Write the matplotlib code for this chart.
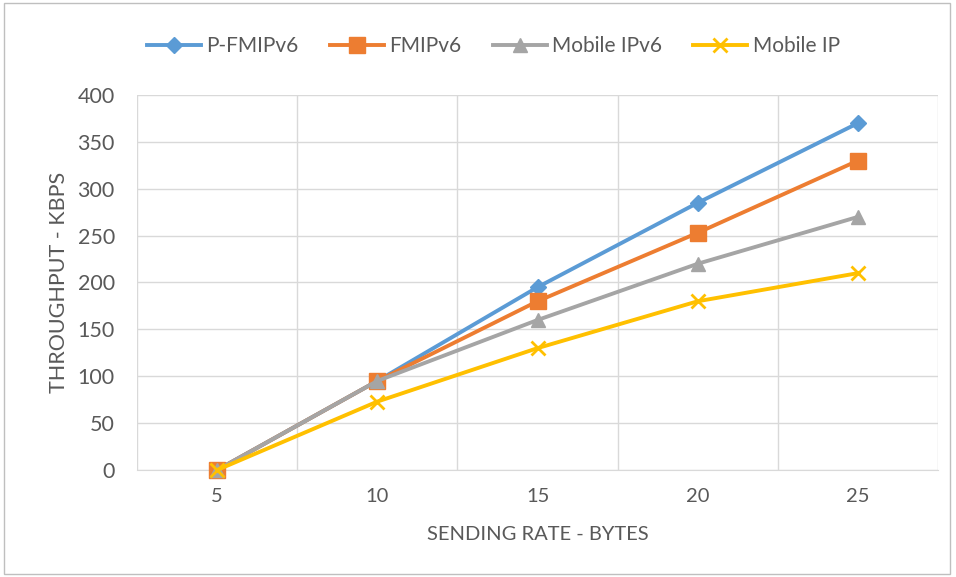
import matplotlib.pyplot as plt
from matplotlib.patches import Rectangle

plt.rcParams['font.family'] = ['Lato', 'DejaVu Sans']

# data
rates = ['5', '10', '15', '20', '25']
p_fmipv6 = [0, 95, 195, 285, 370]
fmipv6 = [0, 95, 180, 253, 330]
mobile_ipv6 = [0, 95, 160, 220, 270]
mobile_ip = [0, 73, 130, 180, 210]

series = [
    ('P-FMIPv6', p_fmipv6, '#5B9BD5', 'D', 8),
    ('FMIPv6', fmipv6, '#ED7D31', 's', 11),
    ('Mobile IPv6', mobile_ipv6, '#A5A5A5', '^', 10),
    ('Mobile IP', mobile_ip, '#FFC000', 'x', 10),
]

fig = plt.figure(figsize=(9.56, 5.77), dpi=100)
ax = fig.add_axes([0.1433, 0.1854, 0.838, 0.650])

xs = list(range(len(rates)))
for name, vals, col, mk, ms in series:
    ax.plot(xs, vals, color=col, lw=2.8, marker=mk, markersize=ms,
            markeredgewidth=2 if mk == 'x' else 1, markeredgecolor=col,
            label=name, zorder=3, clip_on=False)

ax.set_xlim(-0.5, len(rates) - 0.5)
ax.set_ylim(0, 400)
ax.set_yticks(range(0, 401, 50))
ax.set_xticks(xs)
ax.set_xticklabels(rates)
ax.set_xticks([i - 0.5 for i in range(len(rates) + 1)], minor=True)

ax.grid(axis='y', color='#D9D9D9', lw=1)
ax.grid(axis='x', which='minor', color='#D9D9D9', lw=1)
ax.set_axisbelow(True)
for s in ['top', 'left', 'right']:
    ax.spines[s].set_visible(False)
ax.spines['bottom'].set_color('#D9D9D9')
ax.tick_params(which='both', length=0)
ax.tick_params(axis='y', labelsize=15.5, labelcolor='#595959', pad=16)
ax.tick_params(axis='x', labelsize=14.5, labelcolor='#595959', pad=13)

ax.set_ylabel('THROUGHPUT - KBPS', fontsize=15.5, color='#595959', labelpad=6)
ax.set_xlabel('SENDING RATE - BYTES', fontsize=14.5, color='#595959', labelpad=15)

fig.legend(loc='upper center', bbox_to_anchor=(0.516, 0.97), ncol=4,
           frameon=False, fontsize=15, labelcolor='#595959',
           handlelength=2.6, columnspacing=1.5, handletextpad=0.25)

fig.patches.append(Rectangle((0.004, 0.006), 0.99, 0.988, transform=fig.transFigure,
                             fill=False, edgecolor='#BFBFBF', lw=1))

fig.savefig('out.png', dpi=100)
